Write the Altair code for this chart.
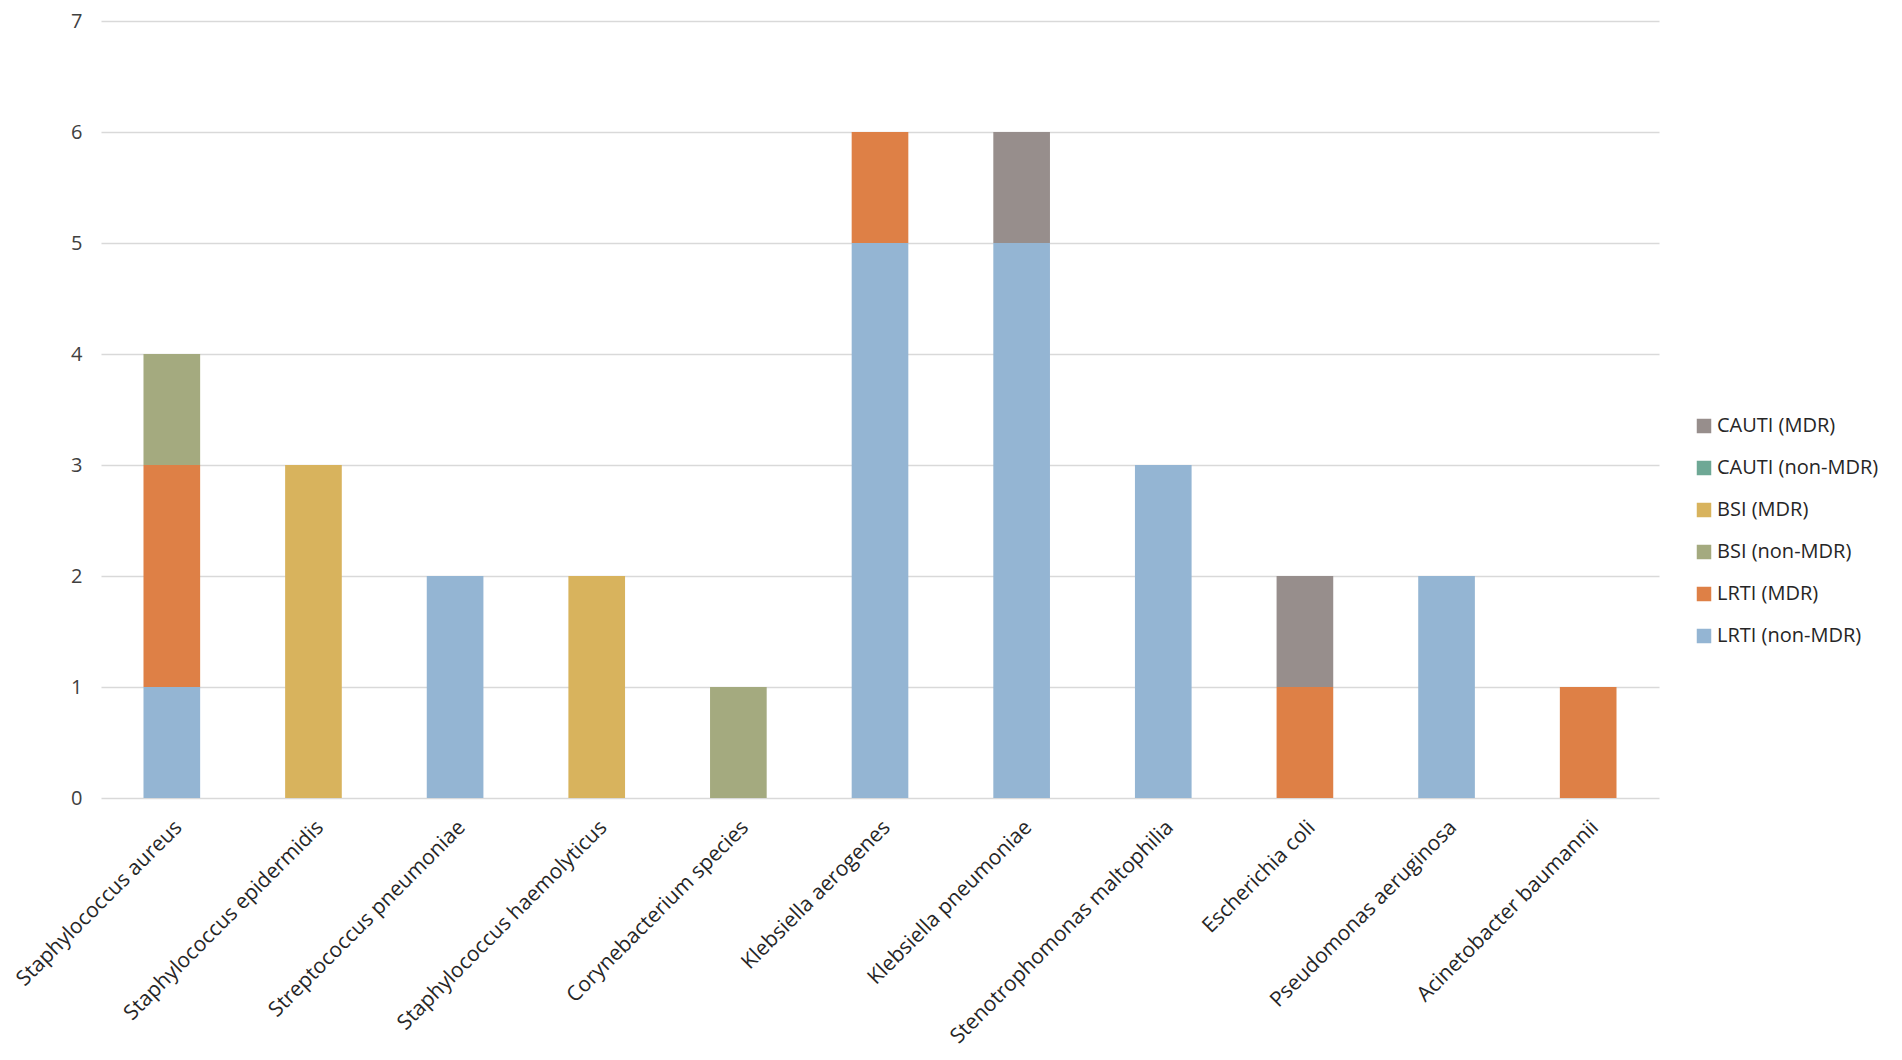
import altair as alt
import pandas as pd

categories = [
    "Staphylococcus aureus", "Staphylococcus epidermidis", "Streptococcus pneumoniae",
    "Staphylococcus haemolyticus", "Corynebacterium species", "Klebsiella aerogenes",
    "Klebsiella pneumoniae", "Stenotrophomonas maltophilia", "Escherichia coli",
    "Pseudomonas aeruginosa", "Acinetobacter baumannii",
]
lrti_non_mdr = [1, 0, 2, 0, 0, 5, 5, 3, 0, 2, 0]
lrti_mdr = [2, 0, 0, 0, 0, 1, 0, 0, 1, 0, 1]
bsi_non_mdr = [1, 0, 0, 0, 1, 0, 0, 0, 0, 0, 0]
bsi_mdr = [0, 3, 0, 2, 0, 0, 0, 0, 0, 0, 0]
cauti_non_mdr = [0, 0, 0, 0, 0, 0, 0, 0, 0, 0, 0]
cauti_mdr = [0, 0, 0, 0, 0, 0, 1, 0, 1, 0, 0]

series_names = ["LRTI (non-MDR)", "LRTI (MDR)", "BSI (non-MDR)", "BSI (MDR)",
                "CAUTI (non-MDR)", "CAUTI (MDR)"]
series_values = [lrti_non_mdr, lrti_mdr, bsi_non_mdr, bsi_mdr, cauti_non_mdr, cauti_mdr]
series_colors = ["#94B5D3", "#DE8046", "#A4AA7F", "#D8B35D", "#6EA895", "#978E8C"]

rows = []
for si, (name, vals) in enumerate(zip(series_names, series_values)):
    for c, v in zip(categories, vals):
        rows.append({"organism": c, "series": name, "count": v, "order": si})
df = pd.DataFrame(rows)

legend_order = list(reversed(series_names))
legend_colors = list(reversed(series_colors))

FONT = "Open Sans"

chart = alt.Chart(df).mark_bar().encode(
    x=alt.X("organism:N", sort=categories,
            scale=alt.Scale(paddingInner=0.6, paddingOuter=0.3),
            axis=alt.Axis(title=None, labelAngle=-45, labelAlign="right",
                          labelBaseline="middle", labelPadding=26, labelOffset=7,
                          ticks=False, domain=False, labelFont=FONT,
                          labelFontSize=21, labelColor="#262626", labelLimit=500)),
    y=alt.Y("count:Q", stack="zero",
            scale=alt.Scale(domain=[0, 7], nice=False),
            axis=alt.Axis(title=None, values=[0, 1, 2, 3, 4, 5, 6, 7], ticks=False,
                          domain=False, labelFont=FONT, labelFontSize=20,
                          labelColor="#404040", labelPadding=19,
                          gridColor="#D9D9D9", gridWidth=1.5)),
    color=alt.Color("series:N",
                    scale=alt.Scale(domain=legend_order, range=legend_colors),
                    legend=alt.Legend(title=None, orient="none", legendX=1593,
                                      legendY=395, symbolType="square",
                                      symbolSize=210, symbolStrokeWidth=0,
                                      labelFont=FONT, labelFontSize=20,
                                      labelColor="#262626", rowPadding=22,
                                      labelOffset=3, padding=0, labelLimit=400)),
    order=alt.Order("order:Q", sort="ascending"),
).properties(
    width=1558, height=777,
    autosize=alt.AutoSizeParams(type="none"),
    padding={"left": 93, "top": 13, "right": 235, "bottom": 261},
).configure(background="white").configure_view(stroke=None, strokeWidth=0)

chart.save("out.html", embed_options={"renderer": "svg", "actions": False})
